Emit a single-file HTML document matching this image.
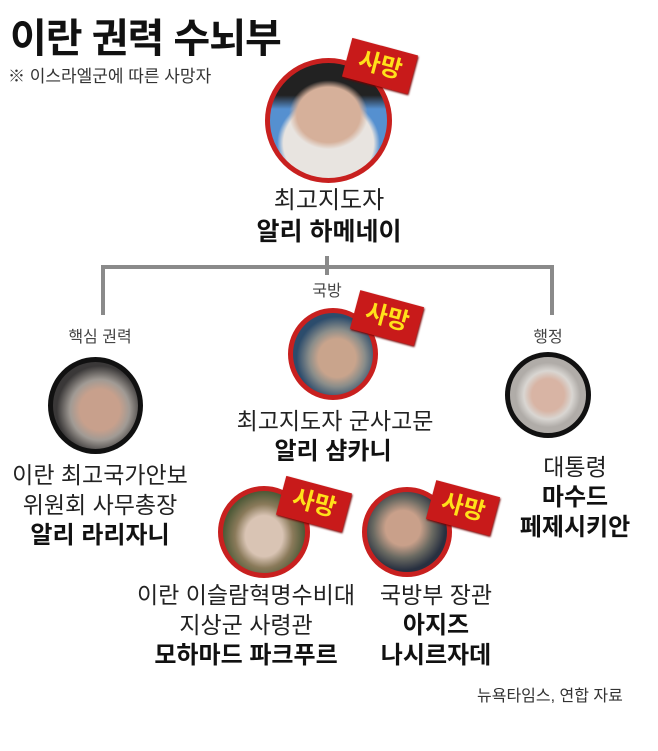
<!DOCTYPE html>
<html><head><meta charset="utf-8"><style>
body{margin:0;width:658px;height:751px;background:#fff;position:relative;overflow:hidden;font-family:"Liberation Sans","Noto Sans CJK KR",sans-serif;color:#111}
.a{position:absolute}
.t{position:absolute;text-align:center;white-space:nowrap;transform:translateX(-50%);line-height:1}
.c{position:absolute;border-radius:50%;box-sizing:border-box;overflow:hidden}
.red{border:5px solid #c8201f}
.blk{border:5px solid #111}
.b{position:absolute;background:#c81a1a;color:#ffe11a;font-weight:bold;font-size:24px;text-align:center;box-shadow:1px 1px 2px #700}
.ln{position:absolute;background:#8a8a8a}
</style></head><body>
<div class="a" style="left:10px;top:6px;font-size:40px;font-weight:bold;letter-spacing:-1px">이란 권력 수뇌부</div>
<div class="a" style="left:8px;top:62px;font-size:17px;color:#333">※ 이스라엘군에 따른 사망자</div>

<!-- Khamenei -->
<div class="c red" style="left:265px;top:58px;width:127px;height:125px;background:radial-gradient(ellipse 45% 40% at 50% 45%,#d6b09a 0 60%,transparent 75%),radial-gradient(ellipse 55% 50% at 50% 70%,#e8e4e0 0 70%,transparent 80%),linear-gradient(#222 0 28%,#5590d0 40%)"></div>
<div class="b" style="left:346px;top:46px;width:68px;height:40px;line-height:40px;transform:rotate(15deg)">사망</div>
<div class="t" style="left:329px;top:189px;font-size:24px;color:#222">최고지도자</div>
<div class="t" style="left:329px;top:220px;font-size:25px;font-weight:bold">알리 하메네이</div>

<!-- connectors -->
<div class="ln" style="left:101px;top:265px;width:453px;height:4px"></div>
<div class="ln" style="left:325px;top:256px;width:4px;height:19px"></div>
<div class="ln" style="left:101px;top:265px;width:4px;height:50px"></div>
<div class="ln" style="left:550px;top:265px;width:4px;height:50px"></div>

<div class="t" style="left:327px;top:284px;font-size:16px;color:#444">국방</div>
<div class="t" style="left:100px;top:330px;font-size:16px;color:#444">핵심 권력</div>
<div class="t" style="left:548px;top:330px;font-size:16px;color:#444">행정</div>

<!-- Shamkhani -->
<div class="c red" style="left:288px;top:308px;width:90px;height:92px;background:radial-gradient(ellipse at 55% 55%,#c9a48c 0 30%,#8a8d8a 45%,#2c4c6c 65%)"></div>
<div class="b" style="left:354px;top:298px;width:66px;height:40px;line-height:40px;transform:rotate(15deg)">사망</div>
<div class="t" style="left:335px;top:410px;font-size:23px;color:#222">최고지도자 군사고문</div>
<div class="t" style="left:333px;top:440px;font-size:24px;font-weight:bold">알리 샴카니</div>

<!-- Larijani -->
<div class="c blk" style="left:48px;top:357px;width:95px;height:97px;background:radial-gradient(ellipse at 55% 55%,#c8a08c 0 30%,#a09a94 45%,#3a3838 65%)"></div>
<div class="t" style="left:100px;top:464px;font-size:23px;color:#222">이란 최고국가안보</div>
<div class="t" style="left:100px;top:494px;font-size:23px;color:#222">위원회 사무총장</div>
<div class="t" style="left:100px;top:524px;font-size:24px;font-weight:bold">알리 라리자니</div>

<!-- Pezeshkian -->
<div class="c blk" style="left:505px;top:352px;width:86px;height:86px;background:radial-gradient(ellipse at 50% 50%,#d8b4a4 0 30%,#d9d6d2 45%,#b0aca8 60%)"></div>
<div class="t" style="left:575px;top:456px;font-size:23px;color:#222">대통령</div>
<div class="t" style="left:575px;top:486px;font-size:24px;font-weight:bold">마수드</div>
<div class="t" style="left:575px;top:516px;font-size:24px;font-weight:bold">페제시키안</div>

<!-- Pakpour -->
<div class="c red" style="left:218px;top:486px;width:92px;height:92px;background:radial-gradient(ellipse at 50% 55%,#d9c4b4 0 32%,#8a7a5a 50%,#4e5a38 70%)"></div>
<div class="b" style="left:280px;top:484px;width:68px;height:40px;line-height:40px;transform:rotate(15deg)">사망</div>
<div class="t" style="left:246px;top:584px;font-size:23px;color:#222">이란 이슬람혁명수비대</div>
<div class="t" style="left:246px;top:614px;font-size:23px;color:#222">지상군 사령관</div>
<div class="t" style="left:246px;top:644px;font-size:24px;font-weight:bold">모하마드 파크푸르</div>

<!-- Nasirzadeh -->
<div class="c red" style="left:362px;top:487px;width:90px;height:90px;background:radial-gradient(ellipse at 45% 45%,#c9a08a 0 28%,#6a6a62 48%,#283040 68%)"></div>
<div class="b" style="left:430px;top:488px;width:66px;height:40px;line-height:40px;transform:rotate(15deg)">사망</div>
<div class="t" style="left:436px;top:584px;font-size:23px;color:#222">국방부 장관</div>
<div class="t" style="left:436px;top:614px;font-size:24px;font-weight:bold">아지즈</div>
<div class="t" style="left:436px;top:644px;font-size:24px;font-weight:bold">나시르자데</div>

<div class="a" style="left:477px;top:682px;font-size:16px;color:#333">뉴욕타임스, 연합 자료</div>
</body></html>
